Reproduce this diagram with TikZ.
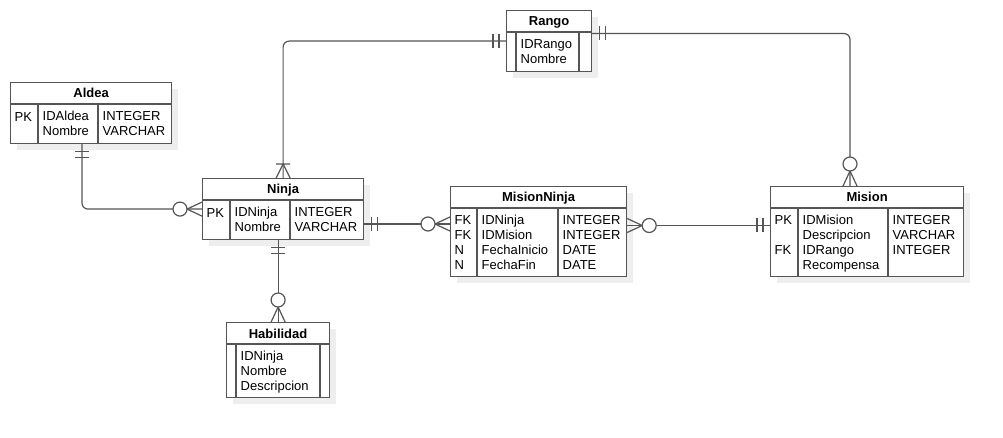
\documentclass[tikz,border=0pt]{standalone}
\usepackage{fontspec}
\setmainfont{Liberation Sans}
\usetikzlibrary{arrows.meta,positioning,calc,shadows}
\definecolor{erline}{HTML}{555555}
\definecolor{shadowgray}{HTML}{EEEEEE}

% ER line ends (tip at 0, shapes towards negative x)
\pgfdeclarearrow{
  name = ER one,
  setup code = {\pgfarrowssettipend{0pt}\pgfarrowssetlineend{0pt}\pgfarrowssetbackend{-14pt}},
  drawing code = {
    \pgfpathmoveto{\pgfpoint{-7pt}{-7pt}}\pgfpathlineto{\pgfpoint{-7pt}{7pt}}
    \pgfpathmoveto{\pgfpoint{-13pt}{-7pt}}\pgfpathlineto{\pgfpoint{-13pt}{7pt}}
    \pgfusepathqstroke
  }
}
\pgfdeclarearrow{
  name = ER one many,
  setup code = {\pgfarrowssettipend{0pt}\pgfarrowssetlineend{0pt}\pgfarrowssetbackend{-14pt}},
  drawing code = {
    \pgfpathmoveto{\pgfpoint{0pt}{7pt}}\pgfpathlineto{\pgfpoint{-14pt}{0pt}}\pgfpathlineto{\pgfpoint{0pt}{-7pt}}
    \pgfpathmoveto{\pgfpoint{-14pt}{-7pt}}\pgfpathlineto{\pgfpoint{-14pt}{7pt}}
    \pgfusepathqstroke
  }
}
\pgfdeclarearrow{
  name = ER zero many,
  setup code = {\pgfarrowssettipend{0pt}\pgfarrowssetlineend{0pt}\pgfarrowssetbackend{-29pt}},
  drawing code = {
    \pgfpathmoveto{\pgfpoint{0pt}{7pt}}\pgfpathlineto{\pgfpoint{-15pt}{0pt}}\pgfpathlineto{\pgfpoint{0pt}{-7pt}}
    \pgfusepathqstroke
    \pgfpathcircle{\pgfpoint{-22pt}{0pt}}{7pt}
    \pgfsetfillcolor{white}
    \pgfusepathqfillstroke
  }
}

\begin{document}
\begin{tikzpicture}[
    x=1pt, y=-1pt,
    entity/.style={draw=erline, line width=1.2pt, fill=white, anchor=north west, inner sep=0pt,
      general shadow={fill=shadowgray, shadow xshift=6pt, shadow yshift=-6pt}},
    title/.style={anchor=base, font=\fontsize{13}{15}\selectfont\bfseries},
    cell/.style={anchor=north west, align=left, inner xsep=4.5pt, inner ysep=0pt,
      font=\fontsize{13}{15}\selectfont, execute at begin node=\strut},
    rule/.style={draw=erline, line width=1.2pt},
    rel/.style={draw=erline, line width=1.2pt, rounded corners=6pt}
  ]
    \useasboundingbox[fill=white] (0,0) rectangle (1003,438);

    % Aldea
    \node[entity, minimum width=161, minimum height=61] (aldea) at (10,82) {};
    \draw[rule] ($(aldea.north west)+(0,22)$) -- ($(aldea.north east)+(0,22)$);
    \foreach \c in {28,88} \draw[rule] ($(aldea.north west)+(\c,22)$) -- ($(aldea.south west)+(\c,0)$);
    \node[title] (aldeaT) at ($(aldea.north)+(0,16)$) {Aldea};
    \node[cell] (aldeaK) at ($(aldea.north west)+(0,29)$) {PK};
    \node[cell] (aldeaC) at ($(aldea.north west)+(28,29)$) {IDAldea\\Nombre};
    \node[cell] (aldeaD) at ($(aldea.north west)+(88,29)$) {INTEGER\\VARCHAR};

    % Ninja
    \node[entity, minimum width=161, minimum height=61] (ninja) at (202,178) {};
    \draw[rule] ($(ninja.north west)+(0,22)$) -- ($(ninja.north east)+(0,22)$);
    \foreach \c in {28,88} \draw[rule] ($(ninja.north west)+(\c,22)$) -- ($(ninja.south west)+(\c,0)$);
    \node[title] (ninjaT) at ($(ninja.north)+(0,16)$) {Ninja};
    \node[cell] (ninjaK) at ($(ninja.north west)+(0,29)$) {PK};
    \node[cell] (ninjaC) at ($(ninja.north west)+(28,29)$) {IDNinja\\Nombre};
    \node[cell] (ninjaD) at ($(ninja.north west)+(88,29)$) {INTEGER\\VARCHAR};

    % Rango
    \node[entity, minimum width=85, minimum height=61] (rango) at (506,10) {};
    \draw[rule] ($(rango.north west)+(0,22)$) -- ($(rango.north east)+(0,22)$);
    \foreach \c in {10,73} \draw[rule] ($(rango.north west)+(\c,22)$) -- ($(rango.south west)+(\c,0)$);
    \node[title] (rangoT) at ($(rango.north)+(0,16)$) {Rango};
    \node[cell] (rangoC) at ($(rango.north west)+(10,29)$) {IDRango\\Nombre};

    % MisionNinja
    \node[entity, minimum width=176, minimum height=90] (mn) at (450,186) {};
    \draw[rule] ($(mn.north west)+(0,22)$) -- ($(mn.north east)+(0,22)$);
    \foreach \c in {27,108} \draw[rule] ($(mn.north west)+(\c,22)$) -- ($(mn.south west)+(\c,0)$);
    \node[title] (mnT) at ($(mn.north)+(0,16)$) {MisionNinja};
    \node[cell] (mnK) at ($(mn.north west)+(0,29)$) {FK\\FK\\N\\N};
    \node[cell] (mnC) at ($(mn.north west)+(27,29)$) {IDNinja\\IDMision\\FechaInicio\\FechaFin};
    \node[cell] (mnD) at ($(mn.north west)+(108,29)$) {INTEGER\\INTEGER\\DATE\\DATE};

    % Mision
    \node[entity, minimum width=193, minimum height=90] (mision) at (770,186) {};
    \draw[rule] ($(mision.north west)+(0,22)$) -- ($(mision.north east)+(0,22)$);
    \foreach \c in {28,118} \draw[rule] ($(mision.north west)+(\c,22)$) -- ($(mision.south west)+(\c,0)$);
    \node[title] (misionT) at ($(mision.north)+(0,16)$) {Mision};
    \node[cell] (misionK) at ($(mision.north west)+(0,29)$) {PK\\\mbox{}\\FK};
    \node[cell] (misionC) at ($(mision.north west)+(28,29)$) {IDMision\\Descripcion\\IDRango\\Recompensa};
    \node[cell] (misionD) at ($(mision.north west)+(118,29)$) {INTEGER\\VARCHAR\\INTEGER};

    % Habilidad
    \node[entity, minimum width=103, minimum height=75] (habil) at (226,322) {};
    \draw[rule] ($(habil.north west)+(0,22)$) -- ($(habil.north east)+(0,22)$);
    \foreach \c in {10,94} \draw[rule] ($(habil.north west)+(\c,22)$) -- ($(habil.south west)+(\c,0)$);
    \node[title] (habilT) at ($(habil.north)+(0,16)$) {Habilidad};
    \node[cell] (habilC) at ($(habil.north west)+(10,29)$) {IDNinja\\Nombre\\Descripcion};

    % relations
    \coordinate (aldeaS) at ($(aldea.south west)+(72,0)$);
    \coordinate (rangoE) at ($(rango.north east)+(0,23.5)$);
    \coordinate (misionN) at ($(mision.north west)+(80,0)$);
    \coordinate (ninjaE) at ($(ninja.north east)+(0,46)$);
    \coordinate (mnE) at ($(mn.north east)+(0,39.5)$);
    \draw[rel, {ER one}-{ER zero many}] (aldeaS) |- (ninja.west);
    \draw[rel, {ER one many}-{ER one}] (ninja.north) |- (rango.west);
    \draw[rel, {ER one}-{ER zero many}] (rangoE) -| (misionN);
    \draw[rel, {ER one}-{ER zero many}] (ninjaE) -- (ninjaE -| mn.west);
    \draw[rel, {ER zero many}-{ER one}] (mnE) -- (mnE -| mision.west);
    \draw[rel, {ER one}-{ER zero many}] (habil.north |- ninja.south) -- (habil.north);
  \end{tikzpicture}
\end{document}
